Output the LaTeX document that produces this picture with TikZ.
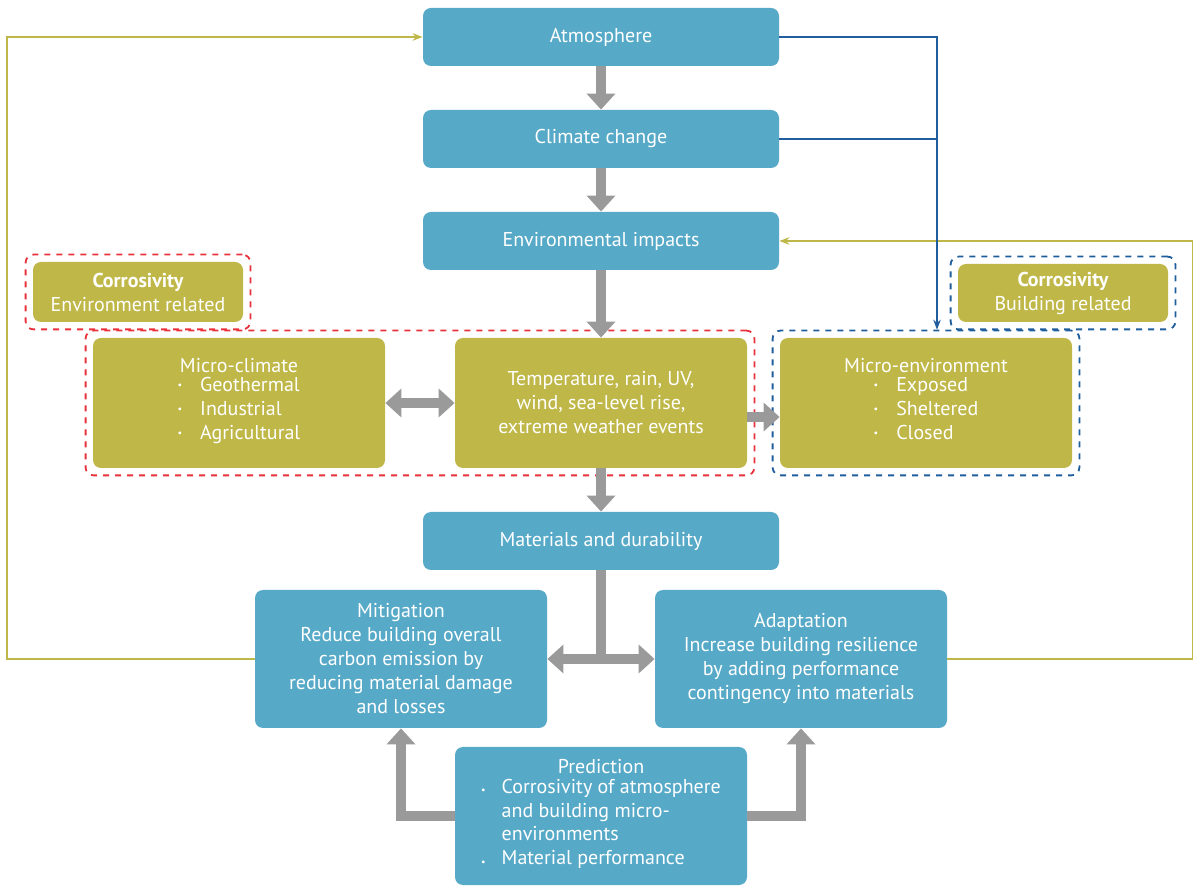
\documentclass[tikz,border=0pt]{standalone}
\usepackage{fontspec}
\setmainfont{PT Sans}
\usetikzlibrary{arrows.meta,fit,positioning}
\definecolor{boxblue}{HTML}{57A9C8}
\definecolor{boxolive}{HTML}{BFB748}
\definecolor{arrgray}{HTML}{9A9A9A}
\definecolor{lnblue}{HTML}{1F5D9C}
\definecolor{lnred}{HTML}{E8313A}
\tikzset{
  bbox/.style={fill=boxblue,text=white,rounded corners=4pt,minimum width=178pt,minimum height=29pt,align=center,font=\fontsize{10}{12}\selectfont},
  obox/.style={fill=boxolive,text=white,rounded corners=4pt,minimum width=146pt,minimum height=65pt,align=center,font=\fontsize{10}{12}\selectfont},
  garrow/.style={draw=arrgray,line width=5pt,-{Triangle[width=14pt,length=8pt]}},
  oline/.style={draw=boxolive,line width=0.9pt,-{Stealth[length=5pt]}},
  bline/.style={draw=lnblue,line width=0.9pt},
  dbox/.style={draw,dashed,line width=0.9pt,rounded corners=4pt,inner sep=3.5pt}
}
\newcommand{\dotitem}{\raisebox{0.3ex}{\scalebox{0.5}{\textbullet}}\hspace{0.9em}}
\renewcommand{\arraystretch}{1.0}
\begin{document}
\begin{tikzpicture}[x=0.5pt,y=-0.5pt]
\useasboundingbox (0,0) rectangle (1200,892);
%
\node[bbox] (atm) at (601,37) {Atmosphere};
\node[bbox] (clim) at (601,139) {Climate change};
\node[bbox] (env) at (601,241) {Environmental impacts};
\node[bbox] (mat) at (601,541) {Materials and durability};
%
\node[obox,minimum width=105pt,minimum height=30pt,inner sep=1pt] (corenv) at (138,292) {\textbf{Corrosivity}\\Environment related};
\node[obox,minimum width=105pt,minimum height=29pt,inner sep=1pt] (corbld) at (1063,293) {\textbf{Corrosivity}\\Building related};
%
\node[obox] (mc) at (239,403) {Micro-climate\\\begin{tabular}{@{}l@{}}\dotitem Geothermal\\\dotitem Industrial\\\dotitem Agricultural\end{tabular}};
\node[obox] (temp) at (601,403) {Temperature, rain, UV,\\wind, sea-level rise,\\extreme weather events};
\node[obox] (me) at (926,403) {Micro-environment\\\begin{tabular}{@{}l@{}}\dotitem Exposed\\\dotitem Sheltered\\\dotitem Closed\end{tabular}};
%
\node[dbox,draw=lnred,fit=(corenv)] {};
\node[dbox,draw=lnblue,fit=(corbld)] (bldframe) {};
\node[dbox,draw=lnred,fit=(mc)(temp)] {};
\node[dbox,draw=lnblue,fit=(me)] (meframe) {};
%
\node[bbox,minimum width=146pt,minimum height=69pt] (mit) at (401,659) {Mitigation\\Reduce building overall\\carbon emission by\\reducing material damage\\and losses};
\node[bbox,minimum width=146pt,minimum height=69pt] (ada) at (801,659) {Adaptation\\Increase building resilience\\by adding performance\\contingency into materials};
\node[bbox,minimum width=146pt,minimum height=69pt] (pred) at (601,816) {Prediction\\\begin{tabular}{@{}l@{\hspace{0.8em}}l@{}}\scalebox{0.5}{\textbullet}&Corrosivity of atmosphere\\&and building micro-\\&environments\\\scalebox{0.5}{\textbullet}&Material performance\end{tabular}};
%
\draw[garrow] (atm) -- (clim);
\draw[garrow] (clim) -- (env);
\draw[garrow] (env) -- (temp);
\draw[garrow] (temp) -- (mat);
\draw[garrow,{Triangle[width=14pt,length=8pt]}-{Triangle[width=14pt,length=8pt]}] (mc) -- (temp);
\draw[garrow] ([yshift=-7pt]temp.east) -- ([yshift=-7pt]me.west);
\draw[garrow,{Triangle[width=14pt,length=8pt]}-{Triangle[width=14pt,length=8pt]}] (mit) -- (ada);
\draw[draw=arrgray,line width=5pt] (mat.south) -- (mat.south |- mit.east);
\draw[garrow] (pred.west) -| (mit.south);
\draw[garrow] (pred.east) -| (ada.south);
%
\draw[oline] (mit.west) -- ++(-248,0) |- (atm.west);
\draw[oline] (ada.east) -- ++(245,0) |- (env.east);
\draw[bline,-{Stealth[length=5pt]}] (atm.east) -| (meframe.north -| 937,0);
\draw[bline] (clim.east) -- (937,139);
\end{tikzpicture}
\end{document}
